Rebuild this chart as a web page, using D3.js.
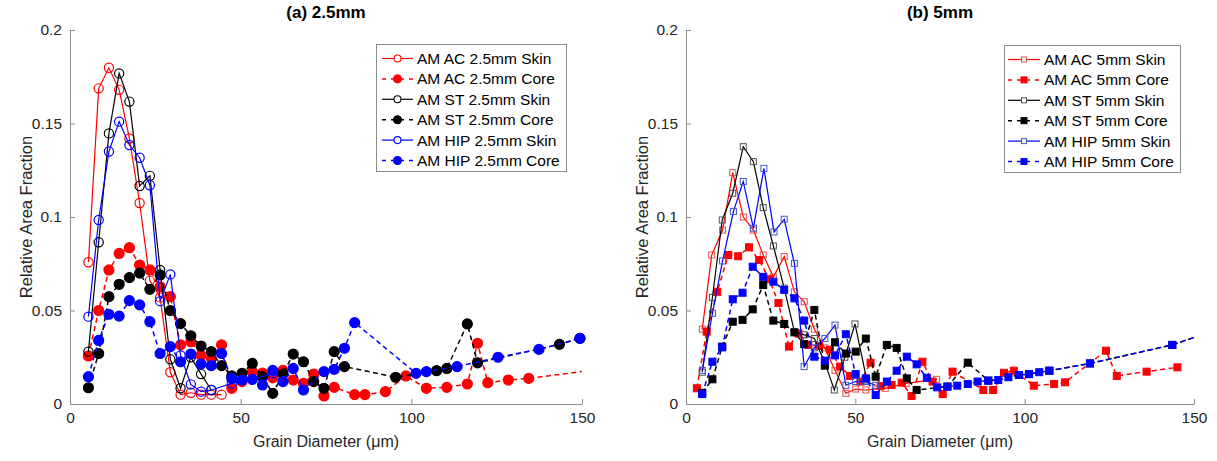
<!DOCTYPE html>
<html><head><meta charset="utf-8">
<script src="https://cdn.jsdelivr.net/npm/d3@7"></script>
<style>body{margin:0;background:#fff}svg{display:block;font-family:"Liberation Sans",Arial,sans-serif}</style>
</head><body><svg id="c" width="1217" height="461"></svg>
<script>
// ---------- data (Grain Diameter µm, Relative Area Fraction) ----------
const xTicks = [0, 50, 100, 150];
const yTicks = [0, 0.05, 0.1, 0.15, 0.2];
const yTickLabels = ["0", "0.05", "0.1", "0.15", "0.2"];
const titles = ["(a) 2.5mm", "(b) 5mm"];
const legendA = ["AM AC 2.5mm Skin", "AM AC 2.5mm Core", "AM ST 2.5mm Skin", "AM ST 2.5mm Core", "AM HIP 2.5mm Skin", "AM HIP 2.5mm Core"];
const legendB = ["AM AC 5mm Skin", "AM AC 5mm Core", "AM ST 5mm Skin", "AM ST 5mm Core", "AM HIP 5mm Skin", "AM HIP 5mm Core"];

// (a) 2.5mm
const aACSkinX = [5.4, 8.4, 11.4, 14.4, 17.4, 20.4, 23.4, 26.4, 29.4, 32.4, 35.4, 38.4, 41.4, 44.4];
const aACSkinY = [0.0758, 0.1688, 0.1798, 0.168, 0.142, 0.1075, 0.066, 0.057, 0.017, 0.005, 0.006, 0.005, 0.005, 0.005];
const aACCoreX = [5.4, 8.4, 11.4, 14.4, 17.4, 20.4, 23.4, 26.4, 29.4, 32.4, 35.4, 38.4, 41.4, 44.4, 47.4, 50.4, 53.4, 56.4, 59.4, 62.4, 65.4, 68.4, 71.4, 74.4, 77.4, 83.4, 86.4, 92.4, 98.4, 104.4, 110.4, 116.4, 119.4, 122.4, 128.4, 134.4, 155.4];
const aACCoreY = [0.0257, 0.050, 0.0717, 0.0805, 0.0836, 0.0743, 0.0717, 0.0627, 0.0574, 0.0316, 0.0333, 0.026, 0.0244, 0.0316, 0.0084, 0.012, 0.0173, 0.0165, 0.014, 0.018, 0.0128, 0.011, 0.016, 0.0043, 0.0089, 0.005, 0.005, 0.0066, 0.015, 0.0084, 0.0089, 0.0107, 0.0325, 0.0114, 0.0128, 0.0137, 0.0186];
const aSTSkinX = [5.4, 8.4, 11.4, 14.4, 17.4, 20.4, 23.4, 26.4, 29.4, 32.4, 35.4, 38.4, 41.4];
const aSTSkinY = [0.028, 0.0865, 0.1447, 0.1768, 0.1617, 0.1166, 0.122, 0.0717, 0.0239, 0.0084, 0.025, 0.016, 0.0075];
const aSTCoreX = [5.4, 8.4, 11.4, 14.4, 17.4, 20.4, 23.4, 26.4, 29.4, 32.4, 35.4, 38.4, 41.4, 44.4, 47.4, 50.4, 53.4, 56.4, 59.4, 62.4, 65.4, 68.4, 71.4, 74.4, 77.4, 80.4, 95.4, 107.4, 110.4, 116.4, 119.4, 143.4, 149.4];
const aSTCoreY = [0.0087, 0.027, 0.0574, 0.064, 0.0676, 0.070, 0.0613, 0.069, 0.050, 0.043, 0.0365, 0.031, 0.028, 0.0205, 0.015, 0.0164, 0.0217, 0.0146, 0.0057, 0.016, 0.0267, 0.0226, 0.012, 0.0084, 0.028, 0.020, 0.0143, 0.0178, 0.019, 0.0428, 0.022, 0.0319, 0.0351];
const aHIPSkinX = [5.4, 8.4, 11.4, 14.4, 17.4, 20.4, 23.4, 26.4, 29.4, 32.4, 35.4, 38.4, 41.4, 47.4, 53.4, 59.4];
const aHIPSkinY = [0.0467, 0.0984, 0.135, 0.151, 0.1385, 0.1317, 0.117, 0.055, 0.0693, 0.026, 0.0105, 0.0066, 0.0075, 0.011, 0.013, 0.0164];
const aHIPCoreX = [5.4, 8.4, 11.4, 14.4, 17.4, 20.4, 23.4, 26.4, 29.4, 32.4, 35.4, 38.4, 41.4, 44.4, 47.4, 50.4, 53.4, 56.4, 59.4, 62.4, 65.4, 68.4, 74.4, 77.4, 80.4, 83.4, 101.4, 104.4, 113.4, 125.4, 137.4, 149.4];
const aHIPCoreY = [0.0146, 0.034, 0.048, 0.047, 0.0553, 0.053, 0.044, 0.027, 0.0307, 0.0226, 0.0267, 0.0214, 0.0205, 0.027, 0.0137, 0.0128, 0.0132, 0.0102, 0.018, 0.012, 0.019, 0.0075, 0.0173, 0.0185, 0.0298, 0.0435, 0.0164, 0.0173, 0.020, 0.025, 0.0292, 0.0351];

// (b) 5mm
const bACSkinX = [4.8, 7.6, 10.8, 13.8, 16.9, 19.9, 22.8, 25.8, 29.0, 32.0, 34.9, 37.9, 41.0, 44.0, 47.2, 50.1, 53.1, 56.0, 58.8, 65.0, 74.0];
const bACSkinY = [0.040, 0.0797, 0.093, 0.1237, 0.100, 0.093, 0.0797, 0.068, 0.0788, 0.060, 0.0547, 0.040, 0.030, 0.018, 0.0057, 0.008, 0.0075, 0.008, 0.0084, 0.011, 0.0132];
const bACCoreX = [3.2, 6.1, 9.2, 12.5, 15.4, 18.6, 21.6, 24.6, 27.3, 30.4, 33.2, 36.1, 39.3, 42.5, 45.5, 48.4, 51.5, 54.5, 57.5, 60.7, 63.7, 66.6, 69.8, 72.8, 75.8, 78.7, 87.8, 90.7, 93.9, 96.8, 102.7, 108.7, 111.9, 124.0, 127.2, 136.0, 145.1];
const bACCoreY = [0.0084, 0.0387, 0.060, 0.0797, 0.079, 0.0838, 0.077, 0.0667, 0.054, 0.0307, 0.0378, 0.0316, 0.031, 0.029, 0.020, 0.015, 0.012, 0.0221, 0.0096, 0.0102, 0.0114, 0.0043, 0.0226, 0.012, 0.0053, 0.0173, 0.0075, 0.0075, 0.0167, 0.0178, 0.0098, 0.0107, 0.0116, 0.0285, 0.015, 0.0173, 0.0196];
const bSTSkinX = [4.8, 7.8, 10.7, 13.8, 16.9, 19.9, 22.8, 25.8, 29.0, 32.0, 34.9, 37.9, 41.0, 43.8, 46.9, 49.9, 53.4];
const bSTSkinY = [0.017, 0.057, 0.0984, 0.1127, 0.1376, 0.1296, 0.105, 0.0845, 0.062, 0.0387, 0.037, 0.035, 0.022, 0.0075, 0.025, 0.0428, 0.0128];
const bSTCoreX = [4.8, 7.8, 10.7, 13.8, 16.7, 19.7, 22.8, 25.8, 29.0, 32.0, 34.9, 37.9, 41.0, 44.0, 47.2, 50.1, 53.1, 56.0, 59.3, 62.2, 65.2, 68.1, 77.2, 83.2, 89.3, 98.3, 101.3, 107.3, 119.3, 143.6, 155.5];
const bSTCoreY = [0.006, 0.0132, 0.0307, 0.044, 0.045, 0.0506, 0.0636, 0.0446, 0.0428, 0.0383, 0.032, 0.0503, 0.0205, 0.033, 0.027, 0.028, 0.035, 0.0146, 0.0316, 0.030, 0.0137, 0.0075, 0.0093, 0.0221, 0.0125, 0.0155, 0.016, 0.0178, 0.0217, 0.0316, 0.039];
const bHIPSkinX = [4.8, 7.8, 10.8, 14.0, 16.9, 19.9, 23.0, 26.0, 29.0, 32.0, 34.9, 37.9, 41.0, 44.0, 47.2, 50.1, 53.1, 56.0];
const bHIPSkinY = [0.018, 0.0485, 0.0765, 0.1029, 0.119, 0.094, 0.126, 0.092, 0.0988, 0.0752, 0.020, 0.030, 0.035, 0.0422, 0.010, 0.012, 0.012, 0.010];
const bHIPCoreX = [4.8, 7.8, 10.7, 13.8, 16.7, 19.7, 22.8, 25.8, 29.0, 32.0, 34.9, 37.9, 41.0, 44.0, 47.2, 50.1, 53.1, 56.0, 59.3, 62.2, 65.2, 68.1, 71.1, 74.2, 77.2, 80.1, 83.2, 86.1, 89.2, 92.2, 95.2, 98.3, 101.3, 104.3, 107.3, 119.3, 143.6, 155.5];
const bHIPCoreY = [0.0053, 0.0226, 0.0303, 0.056, 0.0595, 0.0734, 0.068, 0.0654, 0.061, 0.0565, 0.0446, 0.0253, 0.0232, 0.026, 0.0373, 0.016, 0.0137, 0.0048, 0.012, 0.0178, 0.0253, 0.0212, 0.014, 0.0089, 0.0093, 0.0098, 0.0107, 0.012, 0.0125, 0.0128, 0.0143, 0.0155, 0.016, 0.017, 0.0178, 0.0217, 0.0316, 0.039];

const seriesColors = ["#ff0000", "#ff0000", "#000000", "#000000", "#0000ff", "#0000ff"];
const squareEdge = ["#e05050", "#ff0000", "#505050", "#000000", "#4455cc", "#0000ff"];
const seriesDashed = [false, true, false, true, false, true];
const seriesFilled = [false, true, false, true, false, true];

// ---------- drawing ----------
const svg = d3.select("#c");
const plotTop = 30, plotBottom = 404;
const panels = [
  {x0: 70, x1: 582, title: titles[0], legend: legendA, marker: "circle", lg: {x: 376.5, y: 44.5, w: 190, h: 127, lineX0: 382, lineX1: 413, textX: 417},
   xs: [aACSkinX, aACCoreX, aSTSkinX, aSTCoreX, aHIPSkinX, aHIPCoreX], ys: [aACSkinY, aACCoreY, aSTSkinY, aSTCoreY, aHIPSkinY, aHIPCoreY]},
  {x0: 686, x1: 1194, title: titles[1], legend: legendB, marker: "square", lg: {x: 1004.5, y: 45.5, w: 176, h: 127, lineX0: 1008, lineX1: 1040, textX: 1044},
   xs: [bACSkinX, bACCoreX, bSTSkinX, bSTCoreX, bHIPSkinX, bHIPCoreX], ys: [bACSkinY, bACCoreY, bSTSkinY, bSTCoreY, bHIPSkinY, bHIPCoreY]}
];

panels.forEach((p, pi) => {
  const x = d3.scaleLinear().domain([0, 150]).range([p.x0, p.x1]);
  const y = d3.scaleLinear().domain([0, 0.2]).range([plotBottom, plotTop]);
  const g = svg.append("g");

  const clipId = "clip" + pi;
  svg.append("defs").append("clipPath").attr("id", clipId)
    .append("rect").attr("x", p.x0).attr("y", plotTop - 5).attr("width", p.x1 - p.x0).attr("height", plotBottom - plotTop + 5);

  // axes
  const yAxis = d3.axisLeft(y).tickValues(yTicks).tickFormat((d, i) => yTickLabels[i]).tickSizeInner(-5).tickSizeOuter(0).tickPadding(8);
  const xAxis = d3.axisBottom(x).tickValues(xTicks).tickFormat(d3.format("d")).tickSizeInner(-5).tickSizeOuter(0).tickPadding(8);
  const ga = g.append("g").attr("transform", `translate(${p.x0},0)`).call(yAxis);
  const gb = g.append("g").attr("transform", `translate(0,${plotBottom})`).call(xAxis);
  [ga, gb].forEach(a => {
    a.selectAll("path,line").attr("stroke", "#8c8c8c").attr("stroke-width", 1);
    a.selectAll("text").attr("fill", "#262626").style("font-size", "15.5px").style("font-family", '"Liberation Sans",Arial,sans-serif');
  });

  // axis titles
  g.append("text").attr("transform", `translate(${p.x0 - 38},${(plotTop + plotBottom) / 2}) rotate(-90)`)
    .attr("text-anchor", "middle").attr("fill", "#262626").style("font-size", "16.5px").text("Relative Area Fraction");
  const xl = g.append("text").attr("x", (p.x0 + p.x1) / 2).attr("y", 447).attr("text-anchor", "middle").attr("fill", "#262626").style("font-size", "16px");
  xl.append("tspan").text("Grain Diameter (");
  xl.append("tspan").text("μ");
  xl.append("tspan").text("m)");
  g.append("text").attr("x", (p.x0 + p.x1) / 2).attr("y", 18).attr("text-anchor", "middle").attr("fill", "#000")
    .style("font-size", "17px").style("font-weight", "bold").text(p.title);

  // series
  for (let s = 0; s < 6; s++) {
    const pts = p.xs[s].map((v, i) => [v, p.ys[s][i]]);
    const col = seriesColors[s];
    g.append("path").datum(pts).attr("clip-path", `url(#${clipId})`)
      .attr("fill", "none").attr("stroke", col).attr("stroke-width", seriesDashed[s] ? 1.5 : 1.2)
      .attr("stroke-dasharray", seriesDashed[s] ? "5,3.5" : null)
      .attr("d", d3.line().x(d => x(d[0])).y(d => y(d[1])));
    const vis = pts.filter(d => d[0] <= 150);
    if (p.marker === "circle") {
      g.selectAll(null).data(vis).enter().append("circle")
        .attr("cx", d => x(d[0])).attr("cy", d => y(d[1])).attr("r", seriesFilled[s] ? 5 : 4.6)
        .attr("fill", seriesFilled[s] ? col : "none").attr("stroke", col).attr("stroke-width", 1.2);
    } else {
      const sz = seriesFilled[s] ? 7 : 6;
      g.selectAll(null).data(vis).enter().append("rect")
        .attr("x", d => x(d[0]) - sz / 2).attr("y", d => y(d[1]) - sz / 2).attr("width", sz).attr("height", sz)
        .attr("fill", seriesFilled[s] ? col : "none").attr("stroke", squareEdge[s]).attr("stroke-width", 1);
    }
  }

  // legend
  const L = p.lg;
  const lg = g.append("g");
  lg.append("rect").attr("x", L.x).attr("y", L.y).attr("width", L.w).attr("height", L.h).attr("fill", "#fff").attr("stroke", "#8c8c8c").attr("stroke-width", 1);
  p.legend.forEach((name, i) => {
    const cy = L.y + 14 + i * 20.4;
    const col = seriesColors[i];
    const mx = (L.lineX0 + L.lineX1) / 2;
    lg.append("line").attr("x1", L.lineX0).attr("x2", L.lineX1).attr("y1", cy).attr("y2", cy)
      .attr("stroke", col).attr("stroke-width", seriesDashed[i] ? 1.5 : 1.2).attr("stroke-dasharray", seriesDashed[i] ? "4,5" : null);
    if (p.marker === "circle") {
      lg.append("circle").attr("cx", mx).attr("cy", cy).attr("r", seriesFilled[i] ? 4 : 3.5)
        .attr("fill", seriesFilled[i] ? col : "#fff").attr("stroke", col).attr("stroke-width", 1.1);
    } else {
      const sz = seriesFilled[i] ? 6 : 5;
      lg.append("rect").attr("x", mx - sz / 2).attr("y", cy - sz / 2).attr("width", sz).attr("height", sz)
        .attr("fill", seriesFilled[i] ? col : "#fff").attr("stroke", squareEdge[i]).attr("stroke-width", 1);
    }
    lg.append("text").attr("x", L.textX).attr("y", cy + 5.5).attr("fill", "#000").style("font-size", "15.5px").text(name);
  });
});
</script></body></html>
